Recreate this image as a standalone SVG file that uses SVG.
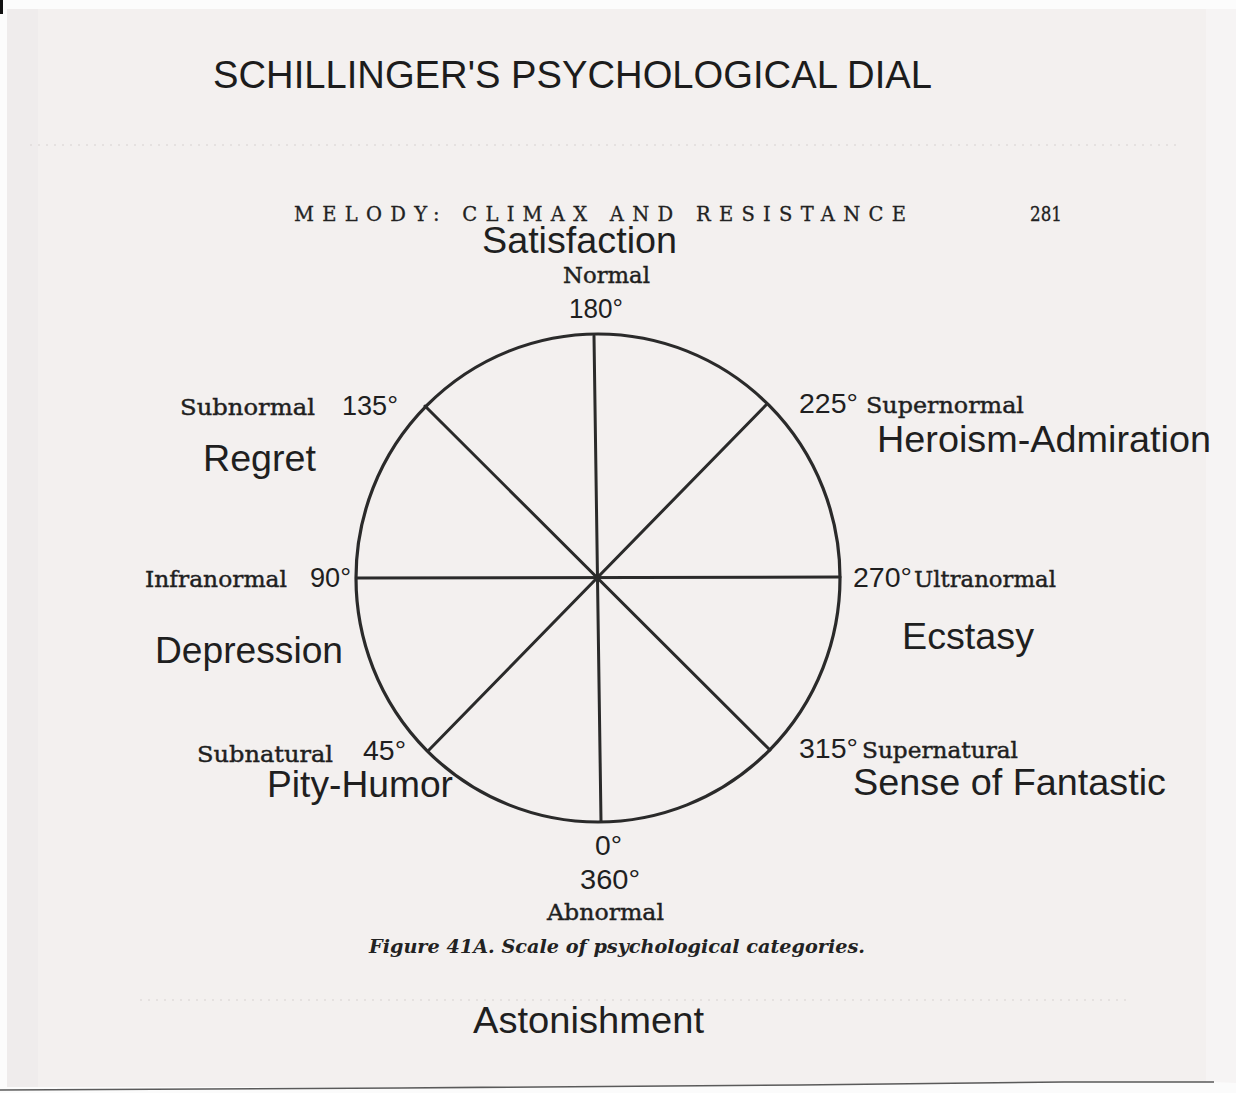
<svg xmlns="http://www.w3.org/2000/svg" width="1236" height="1093" viewBox="0 0 1236 1093">
  <style>
    .emo { font-family: "Liberation Sans", Arial, sans-serif; font-size: 37px; fill: #1f1f1f; }
    .deg { font-family: "Liberation Sans", Arial, sans-serif; font-size: 28px; fill: #1f1f1f; }
    .cat { font-family: "DejaVu Serif", "Liberation Serif", serif; font-size: 23px; fill: #1f1f1f; stroke: #1f1f1f; stroke-width: 0.45; }
    .title { font-family: "Liberation Sans", Arial, sans-serif; font-size: 38px; fill: #1c1c1c; }
    .head { font-family: "DejaVu Serif", "Liberation Serif", serif; font-size: 19.5px; fill: #222; stroke: #222; stroke-width: 0.3; }
    .caption { font-family: "DejaVu Serif", "Liberation Serif", serif; font-size: 18px; font-weight: bold; font-style: italic; fill: #222; }
    .rim { fill: none; stroke: #2a2a2a; stroke-width: 3.2; }
    .spoke { stroke: #2a2a2a; stroke-width: 3; stroke-linecap: round; }
    .seam { stroke: #cdc8c7; stroke-width: 1; stroke-dasharray: 2 6; opacity: 0.7; }
  </style>

  <!-- scanner bed and page -->
  <rect x="0" y="0" width="1236" height="1093" fill="#fcfcfc"/>
  <rect x="7" y="9" width="1229" height="1078" fill="#f3f0ef"/>
  <rect x="7" y="9" width="31" height="1078" fill="#efecec"/>
  <rect x="1206" y="9" width="30" height="1075" fill="#f6f4f4"/>
  <path d="M0 1090 L400 1088 L800 1085 L1064 1082 L1214 1082 L1236 1083 L1236 1093 L0 1093 Z" fill="#fbfbfb"/>
  <path d="M0 1090 L400 1088 L800 1085 L1064 1082 L1214 1082" fill="none" stroke="#5a5a5a" stroke-width="1.6"/>
  <rect x="0" y="0" width="3" height="14" fill="#111"/>

  <!-- paste-up seams -->
  <line class="seam" x1="30" y1="145" x2="1180" y2="145"/>
  <line class="seam" x1="140" y1="1000" x2="1130" y2="1000"/>

  <!-- headings -->
  <g id="title">
    <text class="title" x="213" y="88" textLength="719" lengthAdjust="spacingAndGlyphs">SCHILLINGER'S PSYCHOLOGICAL DIAL</text>
  </g>
  <g id="running-head">
    <text class="head" x="294" y="221" textLength="612" lengthAdjust="spacing">MELODY: CLIMAX AND RESISTANCE</text>
    <text class="head" x="1030" y="221" textLength="32" lengthAdjust="spacingAndGlyphs">281</text>
  </g>

  <!-- dial: rim and spokes -->
  <g id="dial">
    <ellipse class="rim" cx="598" cy="578" rx="242" ry="244"/>
  </g>
  <g id="spokes">
    <line class="spoke" x1="594" y1="336" x2="601" y2="821"/>
    <line class="spoke" x1="357" y1="578" x2="840" y2="577"/>
    <line class="spoke" x1="425" y1="406" x2="770" y2="750"/>
    <line class="spoke" x1="766" y1="405" x2="428" y2="751"/>
  </g>

  <!-- positions round the dial -->
  <g id="pos-180">
    <text class="emo" x="482" y="253" textLength="195" lengthAdjust="spacingAndGlyphs">Satisfaction</text>
    <text class="cat" x="563" y="283" textLength="87" lengthAdjust="spacingAndGlyphs">Normal</text>
    <text class="deg" x="569" y="318" textLength="54" lengthAdjust="spacingAndGlyphs">180°</text>
  </g>
  <g id="pos-135">
    <text class="cat" x="180" y="415" textLength="135" lengthAdjust="spacingAndGlyphs">Subnormal</text>
    <text class="deg" x="342" y="415" textLength="56" lengthAdjust="spacingAndGlyphs">135°</text>
    <text class="emo" x="203" y="471" textLength="113" lengthAdjust="spacingAndGlyphs">Regret</text>
  </g>
  <g id="pos-90">
    <text class="cat" x="145" y="587" textLength="142" lengthAdjust="spacingAndGlyphs">Infranormal</text>
    <text class="deg" x="310" y="587" textLength="41" lengthAdjust="spacingAndGlyphs">90°</text>
    <text class="emo" x="155" y="663" textLength="188" lengthAdjust="spacingAndGlyphs">Depression</text>
  </g>
  <g id="pos-45">
    <text class="cat" x="197" y="762" textLength="136" lengthAdjust="spacingAndGlyphs">Subnatural</text>
    <text class="deg" x="363" y="760" textLength="43" lengthAdjust="spacingAndGlyphs">45°</text>
    <text class="emo" x="267" y="797" textLength="186" lengthAdjust="spacingAndGlyphs">Pity-Humor</text>
  </g>
  <g id="pos-225">
    <text class="deg" x="799" y="413" textLength="59" lengthAdjust="spacingAndGlyphs">225°</text>
    <text class="cat" x="866" y="413" textLength="158" lengthAdjust="spacingAndGlyphs">Supernormal</text>
    <text class="emo" x="877" y="452" textLength="334" lengthAdjust="spacingAndGlyphs">Heroism-Admiration</text>
  </g>
  <g id="pos-270">
    <text class="deg" x="853" y="587" textLength="59" lengthAdjust="spacingAndGlyphs">270°</text>
    <text class="cat" x="914" y="587" textLength="142" lengthAdjust="spacingAndGlyphs">Ultranormal</text>
    <text class="emo" x="902" y="649" textLength="132" lengthAdjust="spacingAndGlyphs">Ecstasy</text>
  </g>
  <g id="pos-315">
    <text class="deg" x="799" y="758" textLength="59" lengthAdjust="spacingAndGlyphs">315°</text>
    <text class="cat" x="862" y="758" textLength="156" lengthAdjust="spacingAndGlyphs">Supernatural</text>
    <text class="emo" x="853" y="795" textLength="313" lengthAdjust="spacingAndGlyphs">Sense of Fantastic</text>
  </g>
  <g id="pos-0">
    <text class="deg" x="595" y="855" textLength="27" lengthAdjust="spacingAndGlyphs">0°</text>
    <text class="deg" x="580" y="889" textLength="60" lengthAdjust="spacingAndGlyphs">360°</text>
    <text class="cat" x="547" y="920" textLength="117" lengthAdjust="spacingAndGlyphs">Abnormal</text>
  </g>

  <g id="caption">
    <text class="caption" x="369" y="953" textLength="496" lengthAdjust="spacingAndGlyphs">Figure 41A. Scale of psychological categories.</text>
  </g>
  <g id="astonishment">
    <text class="emo" x="473" y="1033" textLength="231" lengthAdjust="spacingAndGlyphs">Astonishment</text>
  </g>
</svg>
